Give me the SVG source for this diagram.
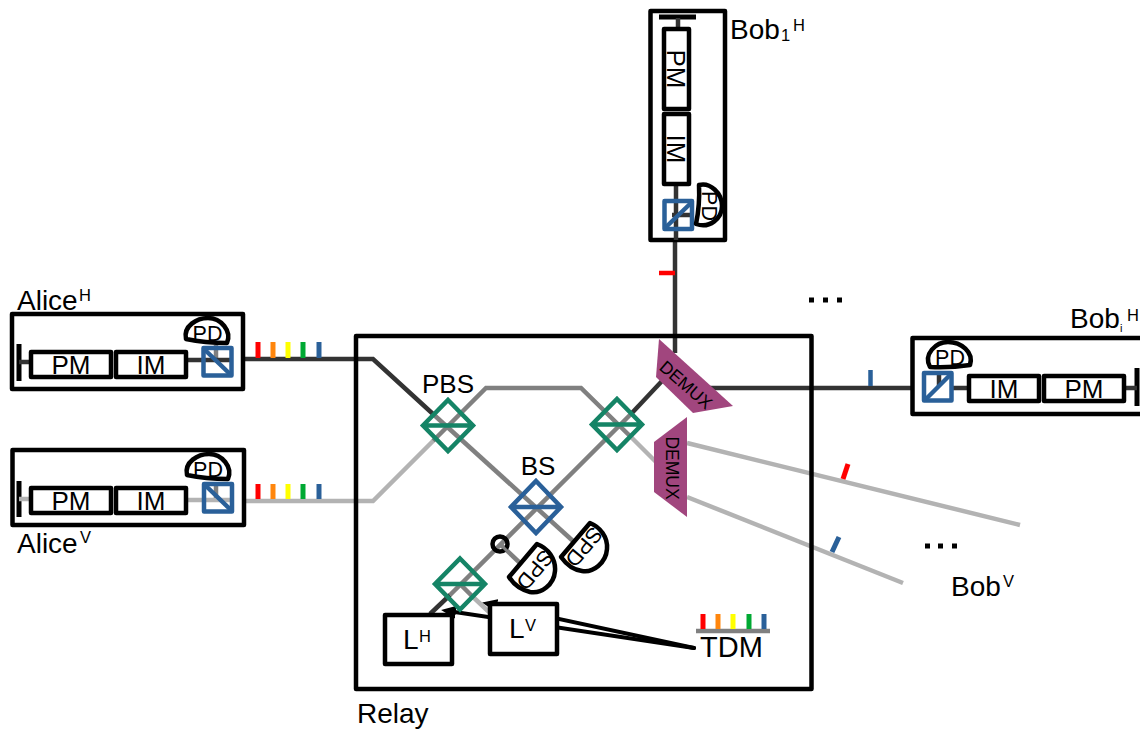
<svg xmlns="http://www.w3.org/2000/svg" width="1140" height="729" viewBox="0 0 1140 729">
<style>
text{font-family:"Liberation Sans",Arial,sans-serif;fill:#000}
.box{fill:none;stroke:#000;stroke-width:4.5;stroke-linejoin:round}
.mod{fill:#fff;stroke:#000;stroke-width:4.5;stroke-linejoin:round}
.cube{fill:none;stroke:#2a6099;stroke-width:4.5;stroke-linejoin:round}
.pbs{fill:none;stroke:#158466;stroke-width:4.5}
.bs{fill:none;stroke:#2a6099;stroke-width:4.5}
.dk{fill:none;stroke:#333;stroke-width:4.5}
.md{fill:none;stroke:#808080;stroke-width:4.5}
.lt{fill:none;stroke:#b3b3b3;stroke-width:4.5}
.det{fill:#fff;stroke:#000;stroke-width:4.5;stroke-linejoin:round}
.dem{fill:#a1467e}
.arr{fill:none;stroke:#000;stroke-width:4;stroke-linecap:round;marker-end:url(#head)}
.t{font-size:28px}.m{font-size:26px}.s{font-size:16.5px}.d{font-size:17.5px}.p{font-size:21.5px}.o{font-size:21.5px}
</style>
<defs><marker id="head" markerUnits="userSpaceOnUse" markerWidth="16" markerHeight="14" refX="8" refY="7" orient="auto"><path d="M0 0.5L15 7L0 13.5Z" fill="#000"/></marker></defs>
<g id="connectors">
<path class="dk" d="M244 359H373L433 414"/>
<path class="lt" d="M244 501H373L433 441"/>
<path class="md" d="M433 441L486 388H581L632 438"/>
<path class="md" d="M433 414L573 541"/>
<path class="md" d="M631 414L450 595"/>
<path class="dk" d="M662 381L631 414"/>
<path class="lt" d="M632 438L656 462"/>
<path class="md" d="M500 544L520 563"/>
<path class="dk" d="M675 240V353"/>
<path class="dk" d="M708 388H912"/>
<path class="lt" d="M687 443L1020 525"/>
<path class="lt" d="M687 497L903 583"/>
<path class="dk" d="M430 614L450 595"/>
<path class="md" d="M460 584L472 596"/>
<path class="lt" d="M472 596L489 612"/>
<path d="M659 273H675" stroke="#f00" stroke-width="4.5" fill="none"/>
<path d="M870.500 370V386" stroke="#2a6099" stroke-width="4.5" fill="none"/>
<path d="M848 464L843 479" stroke="#f00" stroke-width="5" fill="none"/>
<path d="M839 537L832 552" stroke="#2a6099" stroke-width="5" fill="none"/>
<path class="arr" d="M694 648L489 604"/>
<path class="arr" d="M694 648L448 611"/>
</g>
<g id="relay"><rect class="box" x="356" y="336" width="455.500" height="353"/><text class="t" x="357" y="723">Relay</text></g>
<g id="wavelengths">
<path d="M258 342V358" stroke="#f00" stroke-width="5"/><path d="M273 342V358" stroke="#ff860d" stroke-width="5"/><path d="M288 342V358" stroke="#ff0" stroke-width="5"/><path d="M303 342V358" stroke="#00a933" stroke-width="5"/><path d="M319 342V358" stroke="#2a6099" stroke-width="5"/>
<path d="M258 484V499" stroke="#f00" stroke-width="5"/><path d="M273 484V499" stroke="#ff860d" stroke-width="5"/><path d="M288 484V499" stroke="#ff0" stroke-width="5"/><path d="M303 484V499" stroke="#00a933" stroke-width="5"/><path d="M319 484V499" stroke="#2a6099" stroke-width="5"/>
</g>
<g id="alice-h">
<rect class="box" x="12" y="314" width="231" height="75"/>
<path d="M19 344V381" stroke="#000" stroke-width="5"/><path d="M19 362H30M186 360H203" stroke="#333" stroke-width="4.500"/>
<rect class="mod" x="31" y="352" width="80" height="25"/><rect class="mod" x="116" y="352" width="70" height="25"/>
<text class="m" x="71" y="374" text-anchor="middle">PM</text><text class="m" x="151" y="374" text-anchor="middle">IM</text>
<path d="M216 358V345" stroke="#808080" stroke-width="4.500"/>
<path class="dk" d="M204 360H232"/>
<rect class="cube" x="203.500" y="348" width="28" height="27.500"/><path class="cube" d="M204 349L231 375"/>
<path class="det" d="M186 339C183 326 197 318 208 318C221 318 232 331 227 343Q205 343 186 339Z"/>
<text class="p" x="207.500" y="341" text-anchor="middle">PD</text>
<text class="t" x="17" y="310">Alice</text><text class="s" x="79" y="301">H</text>
</g>
<g id="alice-v">
<rect class="box" x="12.500" y="450" width="231.500" height="75"/>
<path d="M19 481V517" stroke="#000" stroke-width="5"/><path d="M19 499H30M186 500H203" stroke="#b3b3b3" stroke-width="4.500"/>
<rect class="mod" x="31" y="488" width="80" height="25"/><rect class="mod" x="116" y="488" width="70" height="25"/>
<text class="m" x="71" y="510" text-anchor="middle">PM</text><text class="m" x="151" y="510" text-anchor="middle">IM</text>
<path d="M216 498V485" stroke="#808080" stroke-width="4.500"/>
<path class="lt" d="M204 500H232"/>
<rect class="cube" x="204" y="484" width="28" height="27.500"/><path class="cube" d="M205 485L232 511"/>
<path class="det" d="M187 475C184 462 198 454 209 454C222 454 233 467 228 479Q206 479 187 475Z"/>
<text class="p" x="208" y="477" text-anchor="middle">PD</text>
<text class="t" x="17" y="553">Alice</text><text class="s" x="80" y="543">V</text>
</g>
<g id="bob1-h">
<rect class="box" x="650.500" y="11" width="74.500" height="229"/>
<path d="M659 17H696" stroke="#000" stroke-width="5"/><path d="M678 18V29M676 185V240" stroke="#333" stroke-width="4.500"/>
<rect class="mod" x="664" y="29" width="25" height="80"/><rect class="mod" x="664" y="114" width="25" height="70"/>
<text class="m" transform="translate(667 69) rotate(90)" text-anchor="middle">PM</text>
<text class="m" transform="translate(667 149) rotate(90)" text-anchor="middle">IM</text>
<path d="M690 215H672" stroke="#333" stroke-width="4.500"/>
<rect class="cube" x="664.500" y="201" width="27.500" height="28"/><path class="cube" d="M665 228L692 202"/>
<path class="det" d="M699 185C710 182 722 193 722 206C722 218 710 229 696 224Q700 205 699 185Z"/>
<text class="p" transform="translate(702 206) rotate(90)" text-anchor="middle">PD</text>
<text class="t" x="730" y="39">Bob</text><text class="s" x="781" y="41">1</text><text class="s" x="793" y="31">H</text>
</g>
<g id="bobi-h">
<path class="box" d="M1140 338H912.500V414H1140"/>
<path d="M1137 368V406" stroke="#000" stroke-width="5"/><path d="M1126 388H1137M952 388H969" stroke="#333" stroke-width="4.500"/>
<rect class="mod" x="969" y="376" width="70" height="25"/><rect class="mod" x="1044" y="376" width="80" height="25"/>
<text class="m" x="1004" y="398" text-anchor="middle">IM</text><text class="m" x="1084" y="398" text-anchor="middle">PM</text>
<path d="M939 386V373" stroke="#333" stroke-width="4.500"/>
<rect class="cube" x="924" y="373" width="27.500" height="27.500"/><path class="cube" d="M925 400L951 374"/>
<path class="det" d="M930 367C923 354 936 342 948 342C961 342 974 352 970 365Q950 368 930 367Z"/>
<text class="p" x="950" y="365" text-anchor="middle">PD</text>
<text class="t" x="1070" y="328">Bob</text><text x="1120" y="332" style="font-size:11px">i</text><text class="s" x="1127" y="321">H</text>
</g>
<g id="pbs-1"><path class="pbs" d="M448 400L473 425.500L448 451L423 425.500ZM423 425.500H473"/><text class="m" x="448" y="393" text-anchor="middle">PBS</text></g>
<g id="pbs-2"><path class="pbs" d="M617 399L642 424.500L617 450L592 424.500ZM592 424.500H642"/></g>
<g id="bs"><path class="bs" d="M536 481L561 507L536 533L511 507ZM511 507H561"/><text class="m" x="538" y="475" text-anchor="middle">BS</text></g>
<g id="pbs-3"><path class="pbs" d="M460 558.500L485 584L460 609.500L435 584ZM435 584H485"/></g>
<g id="circulator"><circle cx="500" cy="544" r="7.500" fill="none" stroke="#000" stroke-width="4.500"/><path d="M502 546L508 552" stroke="#808080" stroke-width="3"/></g>
<g id="spd-1"><path class="det" d="M509 577L537 544C548 548 556 559 555 571C554 585 541 594 530 592C522 590 514 585 509 577Z"/><text class="o" transform="translate(535 570) rotate(130)" text-anchor="middle" y="7.500">SPD</text></g>
<g id="spd-2"><path class="det" d="M561 557L590 523C600 527 608 537 607 549C606 563 593 573 582 571C574 570 566 564 561 557Z"/><text class="o" transform="translate(584 547) rotate(130)" text-anchor="middle" y="7.500">SPD</text></g>
<g id="lh"><rect class="mod" x="385" y="615" width="67" height="49"/><text class="t" x="403" y="649">L</text><text class="s" x="419" y="642">H</text></g>
<g id="lv"><rect class="mod" x="490" y="604" width="67" height="50"/><text class="t" x="509" y="638">L</text><text class="s" x="525" y="631">V</text></g>
<g id="demux-1"><path class="dem" d="M659 339L733 406L693 413L656 377Z"/><text class="d" transform="translate(686 385) rotate(41)" text-anchor="middle" y="6">DEMUX</text></g>
<g id="demux-2"><path class="dem" d="M687 417V517L654 492V442Z"/><text class="d" transform="translate(666 468) rotate(90)" text-anchor="middle">DEMUX</text></g>
<g id="tdm">
<path d="M696 631H770" stroke="#808080" stroke-width="4.500"/>
<path d="M703 614V629" stroke="#f00" stroke-width="5"/><path d="M718 614V629" stroke="#ff860d" stroke-width="5"/><path d="M733 614V629" stroke="#ff0" stroke-width="5"/><path d="M749 614V629" stroke="#00a933" stroke-width="5"/><path d="M764 614V629" stroke="#2a6099" stroke-width="5"/>
<text x="700" y="657" style="font-size:29px">TDM</text>
</g>
<g id="labels">
<path d="M809 300h5M823 300h5M837 300h5" stroke="#000" stroke-width="5"/>
<path d="M925 546h5M938 546h5M952 546h5" stroke="#000" stroke-width="5"/>
<text class="t" x="951" y="596">Bob</text><text class="s" x="1003" y="587">V</text>
</g>
</svg>
